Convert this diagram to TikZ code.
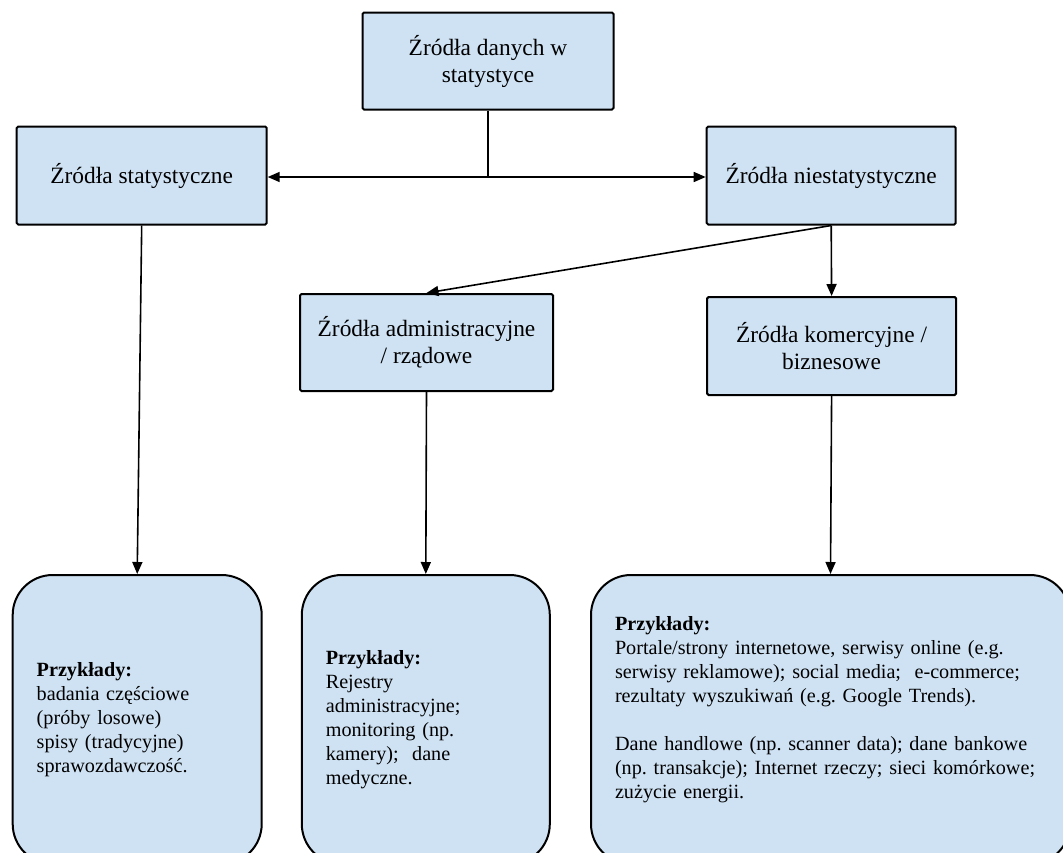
\documentclass[tikz,border=0pt]{standalone}
\usepackage{fontspec}
\setmainfont{Liberation Serif}
\usetikzlibrary{arrows.meta}
\definecolor{boxblue}{HTML}{CFE2F3}
\frenchspacing
\begin{document}
\begin{tikzpicture}[x=1pt,y=-1pt,
  srcbox/.style={draw=black, fill=boxblue, line width=2pt, rounded corners=1.5pt,
    align=center, inner sep=0pt, font=\fontsize{23.4}{27}\selectfont},
  exbox/.style={draw=black, fill=boxblue, line width=2pt, rounded corners=40pt,
    align=left, inner xsep=24pt, inner ysep=0pt, minimum height=289pt,
    font=\fontsize{20.2}{24}\selectfont},
  conn/.style={line width=1.6pt, draw=black},
  arr/.style={conn, -{Triangle[length=12pt,width=10pt]}}]
\useasboundingbox (0,0) rectangle (1063,852);
\begin{scope}
\clip (0,0) rectangle (1063,852);
\node[srcbox, minimum width=251pt, minimum height=97pt] (top) at (488,61) {Źródła danych w\\statystyce};
\node[srcbox, minimum width=250pt, minimum height=98pt] (ls) at (141.7,175.5) {Źródła statystyczne};
\node[srcbox, minimum width=249pt, minimum height=98pt] (rn) at (831.2,175.5) {Źródła niestatystyczne};
\node[srcbox, minimum width=253pt, minimum height=97pt] (adm) at (426.5,342.5) {Źródła administracyjne\\/ rządowe};
\node[srcbox, minimum width=249pt, minimum height=98pt] (com) at (831.6,346) {Źródła komercyjne /\\biznesowe};

\node[exbox, text width=201pt] (b1) at (137.2,719.5) {\textbf{Przykłady:}\\badania częściowe\\(próby losowe)\\spisy (tradycyjne)\\sprawozdawczość.};
\node[exbox, text width=200pt] (b2) at (425.8,719.5) {\textbf{Przykłady:}\\Rejestry\\administracyjne;\\monitoring (np.\\kamery);\ \ dane\\medyczne.};
\node[exbox, text width=431pt] (b3) at (830.5,719.5) {\textbf{Przykłady:}\\Portale/strony internetowe, serwisy online (e.g.\\serwisy reklamowe); social media;\ \ e-commerce;\\rezultaty wyszukiwań (e.g. Google Trends).\\[24pt]Dane handlowe (np. scanner data); dane bankowe\\(np. transakcje); Internet rzeczy; sieci komórkowe;\\zużycie energii.\\\mbox{}};

\coordinate (j) at (488,177);
\draw[conn] (top.south) -- (j);
\draw[arr] (j) -- (j -| ls.east);
\draw[arr] (j) -- (j -| rn.west);
\draw[arr] (rn.south) -- (adm.north);
\draw[arr] (rn.south) -- (com.north);
\draw[arr] (ls.south) -- (b1.north);
\draw[arr] (adm.south) -- (b2.north);
\draw[arr] (com.south) -- (b3.north);
\end{scope}
\end{tikzpicture}
\end{document}
